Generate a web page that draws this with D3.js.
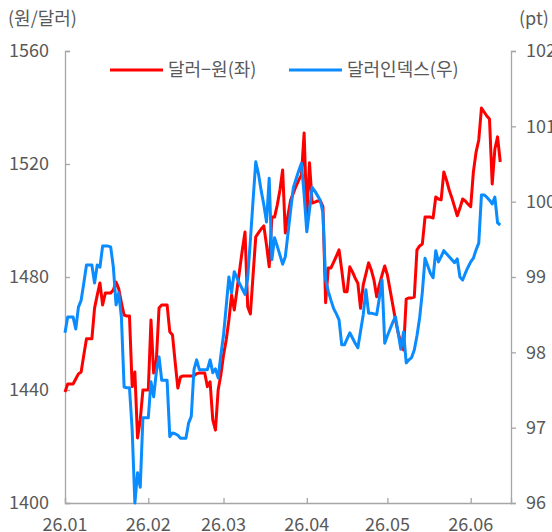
<!DOCTYPE html>
<html>
<head>
<meta charset="utf-8">
<script src="https://cdn.jsdelivr.net/npm/d3@7"></script>
<style>
    body { margin: 0; background: #fff; }
    text { font-family: "Noto Sans CJK KR", "Noto Sans", sans-serif; fill: #595959; }
</style>
</head>
<body>
<div id="fx-chart"></div>
<script>
// daily values from 2026-01-01 (weekends / holidays carry the last close)
var startDate = new Date(2026, 0, 1);
var krwValues = [
    1439.3, 1442.1, 1442.1, 1442.1, 1443.9, 1445.7, 1446.4, 1452.4, 1458.1, 1458.1,
    1458.1, 1469.0, 1473.6, 1477.9, 1470.1, 1474.3, 1474.3, 1474.3, 1475.4, 1478.2,
    1475.8, 1470.9, 1466.5, 1466.2, 1466.2, 1441.2, 1446.4, 1423.0, 1429.4, 1440.0,
    1440.0, 1440.0, 1464.8, 1446.0, 1450.6, 1469.0, 1470.1, 1470.1, 1470.1, 1460.6,
    1459.5, 1449.9, 1440.7, 1444.6, 1445.0, 1445.0, 1445.0, 1445.0, 1445.0, 1445.8,
    1446.0, 1446.0, 1446.0, 1441.2, 1442.9, 1429.4, 1425.8, 1440.0, 1445.3, 1452.4,
    1457.7, 1464.8, 1473.6, 1468.3, 1475.4, 1482.5, 1489.6, 1495.9, 1469.5, 1466.9,
    1480.7, 1494.2, 1495.6, 1497.0, 1498.1, 1491.3, 1483.6, 1501.2, 1501.2, 1505.5,
    1510.8, 1517.9, 1495.6, 1501.9, 1507.3, 1509.7, 1512.2, 1514.3, 1516.1, 1531.0,
    1501.3, 1520.4, 1506.2, 1506.5, 1506.9, 1507.0, 1504.9, 1470.9, 1483.2, 1483.2,
    1485.3, 1487.4, 1489.6, 1482.5, 1474.8, 1474.8, 1483.6, 1481.8, 1479.6, 1477.8,
    1468.9, 1477.2, 1481.1, 1485.0, 1482.5, 1478.9, 1473.0, 1477.2, 1480.7, 1483.9,
    1480.7, 1475.4, 1470.1, 1464.8, 1460.2, 1456.6, 1454.2, 1472.2, 1472.6, 1472.6,
    1472.9, 1489.6, 1491.0, 1491.7, 1501.2, 1501.2, 1501.2, 1500.9, 1508.3, 1507.6,
    1507.3, 1517.2, 1514.3, 1510.8, 1508.0, 1504.8, 1501.7, 1504.4, 1507.6, 1506.9,
    1505.8, 1504.9, 1517.2, 1524.2, 1528.5, 1539.8, 1538.4, 1537.0, 1535.9, 1512.9,
    1525.3, 1529.6, 1520.7
];
var dxyValues = [
    98.26, 98.47, 98.47, 98.47, 98.31, 98.60, 98.69, 98.92, 99.16, 99.16,
    99.16, 98.92, 99.16, 99.13, 99.41, 99.41, 99.41, 99.40, 99.13, 98.63,
    98.79, 98.46, 97.54, 97.53, 97.53, 96.97, 96.00, 96.40, 96.21, 97.13,
    97.13, 97.13, 97.61, 97.41, 97.74, 97.94, 97.63, 97.63, 97.63, 96.88,
    96.93, 96.92, 96.90, 96.86, 96.86, 96.86, 97.06, 97.15, 97.77, 97.90,
    97.77, 97.77, 97.77, 97.77, 97.90, 97.73, 97.78, 97.66, 97.96, 98.23,
    98.61, 99.00, 98.79, 99.07, 98.99, 98.91, 98.84, 98.77, 98.99, 99.49,
    100.02, 100.53, 100.37, 100.15, 99.96, 99.73, 100.31, 99.23, 99.52, 99.41,
    99.29, 99.17, 99.27, 99.58, 99.89, 100.19, 100.30, 100.41, 100.51, 100.09,
    99.60, 99.89, 100.19, 100.14, 100.08, 100.02, 99.85, 98.96, 98.81, 98.69,
    98.58, 98.51, 98.43, 98.10, 98.10, 98.18, 98.26, 98.19, 98.12, 98.06,
    98.28, 98.50, 98.83, 98.52, 98.52, 98.51, 98.50, 98.72, 98.96, 98.12,
    98.22, 98.31, 98.40, 98.47, 98.26, 98.04, 98.27, 97.86, 97.90, 97.93,
    98.03, 98.22, 98.46, 98.80, 99.25, 99.15, 99.05, 98.99, 99.35, 99.20,
    99.27, 99.35, 99.31, 99.27, 99.23, 99.19, 99.24, 99.00, 98.96, 99.05,
    99.13, 99.20, 99.25, 99.36, 99.45, 100.09, 100.09, 100.06, 100.02, 99.97,
    100.06, 99.72, 99.69
];
var leftTicks = [1400, 1440, 1480, 1520, 1560];
var rightTicks = [96, 97, 98, 99, 100, 101, 102];
var monthTicks = ["2026-01-01", "2026-02-01", "2026-03-01", "2026-04-01", "2026-05-01", "2026-06-01"];
var monthLabels = ["26.01", "26.02", "26.03", "26.04", "26.05", "26.06"];
var seriesNames = ["달러\u2212원(좌)", "달러인덱스(우)"];
var seriesColors = ["#ff0000", "#0a8cff"];

function FxChart() {
    var self = this;
    self.init();
};

FxChart.prototype.init = function () {
    var self = this;
    self.svgWidth = 552;
    self.svgHeight = 532;
    self.left = 65;
    self.right = 511;
    self.top = 51;
    self.bottom = 503;

    self.svg = d3.select("#fx-chart").append("svg")
        .attr("width", self.svgWidth)
        .attr("height", self.svgHeight);

    var parse = d3.timeParse("%Y-%m-%d");
    var dates = d3.timeDay.range(startDate, d3.timeDay.offset(startDate, krwValues.length));

    self.xScale = d3.scaleTime()
        .domain([startDate, new Date(2026, 5, 16)])
        .range([self.left, self.right]);
    self.yLeft = d3.scaleLinear().domain([1400, 1560]).range([self.bottom, self.top]);
    self.yRight = d3.scaleLinear().domain([96, 102]).range([self.bottom, self.top]);

    // axes: ticks point right on both sides, up on the date axis
    var axisColor = "#a6a6a6";
    var gl = self.svg.append("g").attr("transform", "translate(" + self.left + ",0)")
        .call(d3.axisRight(self.yLeft).tickValues(leftTicks).tickSize(5).tickFormat(""));
    var gr = self.svg.append("g").attr("transform", "translate(" + self.right + ",0)")
        .call(d3.axisRight(self.yRight).tickValues(rightTicks).tickSize(5).tickFormat(""));
    var gx = self.svg.append("g").attr("transform", "translate(0," + self.bottom + ")")
        .call(d3.axisTop(self.xScale).tickValues(monthTicks.map(parse)).tickSize(5).tickFormat(""));
    [gl, gr, gx].forEach(function (g) {
        g.select(".domain").attr("stroke", axisColor).attr("stroke-width", 1.3);
        g.selectAll(".tick line").attr("stroke", axisColor).attr("stroke-width", 1.3);
    });

    self.svg.selectAll(".lab-l").data(leftTicks).enter().append("text")
        .attr("x", 49).attr("y", function (d) { return self.yLeft(d); })
        .attr("dy", "0.35em").attr("text-anchor", "end")
        .style("font-size", "18px").text(function (d) { return d; });
    self.svg.selectAll(".lab-r").data(rightTicks).enter().append("text")
        .attr("x", 526).attr("y", function (d) { return self.yRight(d); })
        .attr("dy", "0.35em").attr("text-anchor", "start")
        .style("font-size", "18px").text(function (d) { return d; });
    self.svg.selectAll(".lab-x").data(monthTicks).enter().append("text")
        .attr("x", function (d) { return self.xScale(parse(d)); }).attr("y", 531)
        .attr("text-anchor", "middle")
        .style("font-size", "18px").text(function (d, i) { return monthLabels[i]; });

    self.svg.append("text").attr("x", 8).attr("y", 25).style("font-size", "18px").text("(원/달러)");
    self.svg.append("text").attr("x", 519).attr("y", 25).style("font-size", "18px").text("(pt)");

    // lines
    var krwLine = d3.line()
        .x(function (d, i) { return self.xScale(dates[i]); })
        .y(function (d) { return self.yLeft(d); });
    var dxyLine = d3.line()
        .x(function (d, i) { return self.xScale(dates[i]); })
        .y(function (d) { return self.yRight(d); });

    self.svg.append("path").datum(krwValues)
        .attr("d", krwLine).attr("fill", "none")
        .attr("stroke", seriesColors[0]).attr("stroke-width", 3)
        .attr("stroke-linejoin", "round");
    self.svg.append("path").datum(dxyValues)
        .attr("d", dxyLine).attr("fill", "none")
        .attr("stroke", seriesColors[1]).attr("stroke-width", 3)
        .attr("stroke-linejoin", "round");

    // legend
    var legendX = [110, 289];
    var legend = self.svg.selectAll(".legend").data(seriesNames).enter().append("g")
        .attr("transform", function (d, i) { return "translate(" + legendX[i] + ",70)"; });
    legend.append("line").attr("x1", 0).attr("x2", 53)
        .attr("stroke", function (d, i) { return seriesColors[i]; })
        .attr("stroke-width", 3);
    legend.append("text").attr("x", 58).attr("dy", "0.35em")
        .style("font-size", "18px").text(function (d) { return d; });
};

new FxChart();
</script>
</body>
</html>
